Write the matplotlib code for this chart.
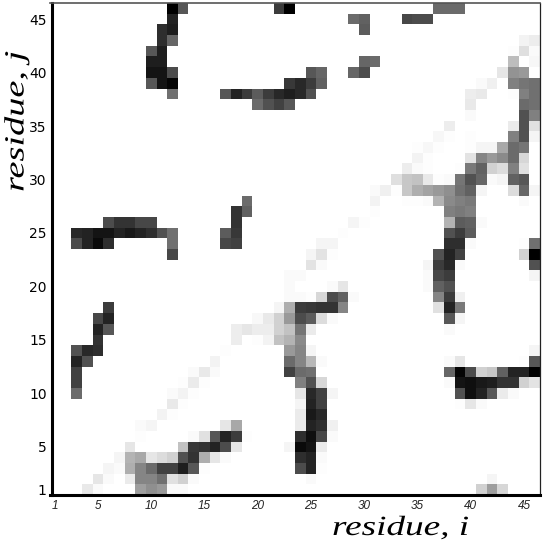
import numpy as np
import matplotlib
matplotlib.use("Agg")
import matplotlib.pyplot as plt
from matplotlib.patheffects import AbstractPathEffect
from matplotlib.transforms import Affine2D

# grey level of the non-white cells, per residue j : {residue i: grey}
row_46 = {12:0,13:85,22:60,23:0,37:105,38:105,39:105}
row_45 = {12:35,29:105,30:95,34:70,35:75,36:75}
row_44 = {11:45,12:30,30:90,46:252}
row_43 = {11:45,12:100,45:238,46:232}
row_42 = {10:85,11:30,44:248,45:218,46:245}
row_41 = {10:30,11:30,30:100,31:105,43:250,44:185,46:242}
row_40 = {10:20,11:20,12:75,25:85,26:100,29:100,30:75,43:225,44:145,45:150,46:250}
row_39 = {10:85,11:20,12:5,23:55,24:40,25:60,26:95,41:245,42:235,44:125,45:115,46:110}
row_38 = {12:110,17:85,18:35,19:60,20:90,21:60,22:40,23:30,24:40,25:80,40:232,41:228,42:250,43:250,44:248,45:125,46:110}
row_37 = {20:105,21:80,22:65,23:85,39:250,40:228,41:250,44:250,45:105,46:110}
row_36 = {38:252,39:250,40:245,41:252,44:250,45:80,46:125}
row_35 = {37:250,38:232,39:252,40:252,44:230,45:80,46:220}
row_34 = {37:242,38:248,39:250,40:248,41:252,43:250,44:125,45:80,46:240}
row_33 = {35:248,36:242,37:248,38:252,39:252,40:248,41:240,42:240,43:165,44:105,45:115}
row_32 = {35:238,36:248,37:252,40:222,41:130,42:150,43:135,44:105,45:210}
row_31 = {33:250,34:232,35:245,36:248,37:250,38:252,39:248,40:120,41:95,42:205,43:215,44:125,45:220}
row_30 = {32:250,33:218,34:195,35:190,36:228,37:248,38:245,39:115,40:80,41:100,42:245,43:240,44:95,45:85}
row_29 = {31:245,32:235,33:248,34:195,35:170,36:160,37:150,38:140,39:110,40:95,41:240,44:215,45:100,46:240}
row_28 = {19:105,31:238,32:252,33:250,34:248,35:248,36:245,37:175,38:135,39:125,40:120,45:245}
row_27 = {18:50,19:95,29:250,30:250,31:248,35:252,36:250,37:250,38:125,39:120,40:125}
row_26 = {6:75,7:50,8:50,9:70,10:70,18:50,28:250,29:240,30:248,37:250,38:175,39:90,40:95,41:245}
row_25 = {3:40,4:35,5:20,6:20,7:35,8:25,9:35,10:45,11:80,12:110,17:90,18:55,27:250,28:248,29:252,37:250,38:80,39:60,40:90,46:250}
row_24 = {3:75,4:35,5:10,6:45,12:110,17:70,18:65,26:240,27:240,28:250,37:250,38:45,39:45,40:245,45:248,46:110}
row_23 = {12:70,25:240,26:222,27:248,36:250,37:80,38:35,39:65,40:252,45:205,46:0}
row_22 = {24:252,25:222,26:245,36:240,37:60,38:40,39:245,45:250,46:80}
row_21 = {23:245,24:245,25:250,36:245,37:70,38:60,46:240}
row_20 = {22:250,23:245,27:245,28:225,29:250,36:245,37:95,38:80}
row_19 = {22:250,23:245,24:245,25:248,26:210,27:75,28:95,29:245,36:250,37:130,38:60,39:235}
row_18 = {6:60,21:250,22:240,23:170,24:60,25:55,26:50,27:50,28:130,37:220,38:35,39:120}
row_17 = {5:70,6:35,19:252,20:243,21:228,22:205,23:150,24:75,25:90,26:215,27:245,37:250,38:85,39:240}
row_16 = {5:35,6:85,18:232,19:225,20:232,21:232,22:205,23:190,24:115,25:230,38:245}
row_15 = {5:50,17:252,18:232,19:250,20:248,21:238,22:190,23:175,24:135,25:250}
row_14 = {3:80,4:40,5:45,17:248,18:252,21:250,22:252,23:150,24:130,25:240,26:250,46:240}
row_13 = {3:35,4:80,16:238,17:250,23:105,24:130,25:180,26:245,38:245,39:225,43:250,44:250,45:248,46:85}
row_12 = {3:65,14:245,15:228,16:245,17:252,23:65,24:105,25:110,26:252,37:250,38:100,39:5,40:75,41:205,42:195,43:95,44:35,45:35,46:0}
row_11 = {3:65,13:248,14:230,15:248,16:253,24:125,25:80,26:210,38:245,39:20,40:15,41:25,42:30,43:50,44:50,45:205,46:222}
row_10 = {3:105,12:245,13:238,14:248,15:252,24:225,25:40,26:65,27:240,39:80,40:15,41:35,42:85,43:230,44:245}
row_09 = {11:250,12:228,13:248,14:253,24:240,25:35,26:65,27:252,39:248,40:225,41:245}
row_08 = {11:238,12:248,13:253,24:230,25:25,26:40,27:250,40:252}
row_07 = {9:245,10:240,11:250,12:253,13:253,14:253,15:253,16:250,17:225,18:165,19:253,24:230,25:35,26:45,27:235}
row_06 = {8:253,9:248,10:250,11:252,12:252,13:253,14:245,15:220,16:85,17:35,18:60,19:248,23:250,24:45,25:15,26:70,27:245}
row_05 = {8:225,9:253,10:253,11:253,12:250,13:190,14:55,15:50,16:35,17:75,18:225,23:240,24:10,25:20,26:230}
row_04 = {6:252,7:240,8:175,9:165,10:225,11:215,12:205,13:80,14:50,15:170,16:225,17:245,23:250,24:45,25:35,26:245}
row_03 = {5:250,6:240,7:245,8:170,9:130,10:105,11:65,12:65,13:30,14:85,15:248,24:75,25:35,26:248,40:252}
row_02 = {4:250,5:225,6:245,7:250,8:230,9:130,10:130,11:110,12:220,13:205,14:245,25:245,41:250,42:240,43:250}
row_01 = {4:228,5:245,6:250,7:250,8:250,9:155,10:140,11:150,12:245,13:245,40:250,41:205,42:155,43:210}

rows = [row_01,row_02,row_03,row_04,row_05,row_06,row_07,row_08,row_09,row_10,
        row_11,row_12,row_13,row_14,row_15,row_16,row_17,row_18,row_19,row_20,
        row_21,row_22,row_23,row_24,row_25,row_26,row_27,row_28,row_29,row_30,
        row_31,row_32,row_33,row_34,row_35,row_36,row_37,row_38,row_39,row_40,
        row_41,row_42,row_43,row_44,row_45,row_46]

x_ticks = [1,5,10,15,20,25,30,35,40,45]
y_ticks = [1,5,10,15,20,25,30,35,40,45]

grid = np.full((46,46),255)
for j,row in enumerate(rows):
	for i,grey in row.items():
		grid[j,i-1] = grey


# the axis titles in the picture are stretched along the baseline
class Stretch(AbstractPathEffect):
	def __init__(self,sx):
		super().__init__()
		self.sx = sx
	def draw_path(self,renderer,gc,tpath,affine,rgbFace=None):
		renderer.draw_path(gc,tpath,Affine2D().scale(self.sx,1)+affine,rgbFace)


W = 545.
fig = plt.figure(figsize=(5.45,5.45),dpi=100)
ax = fig.add_axes([50/W,1-495/W,490/W,492/W])
ax.imshow(grid,cmap="gray",vmin=0,vmax=250,origin="lower",aspect="auto",
	interpolation="nearest",extent=(0.5,46.5,0.5,46.5))

ax.set_xticks(x_ticks)
ax.set_yticks(y_ticks)
ax.set_xticklabels(x_ticks,family="Liberation Sans",style="italic",fontsize=8.5,color="#222222")
ax.set_yticklabels(y_ticks,family="Liberation Sans",style="italic",fontsize=8.5,color="#222222")
ax.tick_params(length=0,pad=3.5)

ax.spines["left"].set_linewidth(2.2)
ax.spines["left"].set_position(("outward",-1.1))
ax.spines["bottom"].set_linewidth(2.2)
ax.spines["top"].set_linewidth(1.2)
ax.spines["top"].set_color("#555555")
ax.spines["right"].set_linewidth(0.9)
ax.spines["right"].set_color("#222222")

fig.text(332/W,1-535/W,"residue, i",family="Liberation Serif",style="italic",fontsize=20,
	path_effects=[Stretch(1.34)])
fig.text(23.5/W,1-192/W,"residue, j",family="Liberation Serif",style="italic",fontsize=20,
	rotation=90,rotation_mode="anchor",path_effects=[Stretch(1.38)])

fig.savefig("out.png",dpi=100)
